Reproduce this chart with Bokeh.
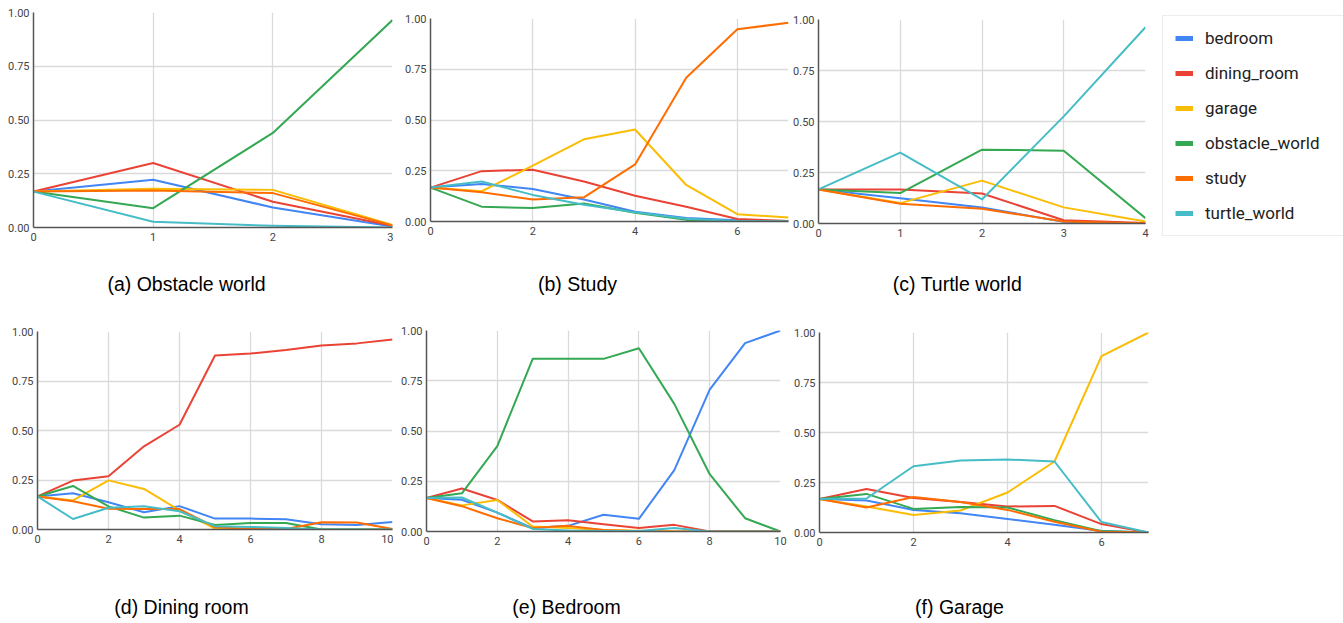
from bokeh.plotting import figure
from bokeh.layouts import column, row
from bokeh.models import (Range1d, FixedTicker, Label, Legend, LegendItem,
                          NumeralTickFormatter)
from bokeh.embed import file_html
from bokeh.resources import INLINE

SERIES = ["bedroom", "dining_room", "garage", "obstacle_world", "study", "turtle_world"]
COLORS = ["#4285F4", "#EA4335", "#FBBC04", "#34A853", "#FF6D01", "#46BDC6"]
Y_TICKS = [0, 0.25, 0.5, 0.75, 1.0]

# (a) Obstacle world
a_steps = [0, 1, 2, 3]
a_xticks = [0, 1, 2, 3]
a_values = {
    "bedroom":        [0.167, 0.222, 0.093, 0.005],
    "dining_room":    [0.167, 0.300, 0.120, 0.008],
    "garage":         [0.167, 0.180, 0.175, 0.012],
    "obstacle_world": [0.167, 0.090, 0.440, 0.965],
    "study":          [0.167, 0.172, 0.160, 0.010],
    "turtle_world":   [0.167, 0.027, 0.008, 0.000],
}

# (b) Study
b_steps = [0, 1, 2, 3, 4, 5, 6, 7]
b_xticks = [0, 2, 4, 6]
b_values = {
    "bedroom":        [0.167, 0.185, 0.160, 0.108, 0.048, 0.017, 0.006, 0.002],
    "dining_room":    [0.167, 0.248, 0.255, 0.197, 0.127, 0.073, 0.012, 0.003],
    "garage":         [0.167, 0.149, 0.275, 0.405, 0.453, 0.180, 0.036, 0.020],
    "obstacle_world": [0.167, 0.073, 0.066, 0.089, 0.043, 0.008, 0.001, 0.000],
    "study":          [0.167, 0.144, 0.108, 0.119, 0.281, 0.708, 0.947, 0.979],
    "turtle_world":   [0.167, 0.197, 0.131, 0.083, 0.045, 0.013, 0.002, 0.000],
}

# (c) Turtle world
c_steps = [0, 1, 2, 3, 4]
c_xticks = [0, 1, 2, 3, 4]
c_values = {
    "bedroom":        [0.167, 0.124, 0.079, 0.008, 0.000],
    "dining_room":    [0.167, 0.167, 0.147, 0.016, 0.002],
    "garage":         [0.167, 0.100, 0.210, 0.079, 0.010],
    "obstacle_world": [0.167, 0.149, 0.362, 0.357, 0.026],
    "study":          [0.167, 0.097, 0.072, 0.010, 0.000],
    "turtle_world":   [0.167, 0.347, 0.118, 0.525, 0.962],
}

# (d) Dining room
d_steps = [0, 1, 2, 3, 4, 5, 6, 7, 8, 9, 10]
d_xticks = [0, 2, 4, 6, 8, 10]
d_values = {
    "bedroom":        [0.167, 0.183, 0.138, 0.087, 0.118, 0.055, 0.055, 0.052, 0.027, 0.023, 0.038],
    "dining_room":    [0.167, 0.247, 0.269, 0.420, 0.529, 0.879, 0.889, 0.906, 0.929, 0.940, 0.960],
    "garage":         [0.167, 0.147, 0.248, 0.205, 0.097, 0.005, 0.003, 0.002, 0.000, 0.000, 0.000],
    "obstacle_world": [0.167, 0.220, 0.117, 0.060, 0.070, 0.023, 0.033, 0.033, 0.000, 0.000, 0.000],
    "study":          [0.167, 0.143, 0.105, 0.103, 0.103, 0.012, 0.003, 0.003, 0.037, 0.035, 0.003],
    "turtle_world":   [0.167, 0.053, 0.110, 0.117, 0.092, 0.017, 0.013, 0.007, 0.000, 0.000, 0.000],
}

# (e) Bedroom
e_steps = [0, 1, 2, 3, 4, 5, 6, 7, 8, 9, 10]
e_xticks = [0, 2, 4, 6, 8, 10]
e_values = {
    "bedroom":        [0.167, 0.158, 0.094, 0.017, 0.028, 0.083, 0.063, 0.305, 0.706, 0.937, 1.000],
    "dining_room":    [0.167, 0.214, 0.157, 0.050, 0.056, 0.036, 0.017, 0.033, 0.000, 0.000, 0.000],
    "garage":         [0.167, 0.130, 0.157, 0.025, 0.017, 0.008, 0.004, 0.000, 0.000, 0.000, 0.000],
    "obstacle_world": [0.167, 0.190, 0.425, 0.859, 0.859, 0.859, 0.912, 0.635, 0.285, 0.066, 0.000],
    "study":          [0.167, 0.126, 0.066, 0.017, 0.028, 0.008, 0.001, 0.000, 0.000, 0.000, 0.000],
    "turtle_world":   [0.167, 0.169, 0.094, 0.013, 0.005, 0.003, 0.002, 0.017, 0.000, 0.000, 0.000],
}

# (f) Garage
f_steps = [0, 1, 2, 3, 4, 5, 6, 7]
f_xticks = [0, 2, 4, 6]
f_values = {
    "bedroom":        [0.167, 0.160, 0.113, 0.096, 0.068, 0.039, 0.007, 0.000],
    "dining_room":    [0.167, 0.218, 0.172, 0.152, 0.130, 0.133, 0.042, 0.000],
    "garage":         [0.167, 0.130, 0.088, 0.110, 0.200, 0.355, 0.882, 1.000],
    "obstacle_world": [0.167, 0.193, 0.118, 0.127, 0.125, 0.062, 0.007, 0.000],
    "study":          [0.167, 0.125, 0.177, 0.152, 0.113, 0.054, 0.004, 0.000],
    "turtle_world":   [0.167, 0.170, 0.331, 0.360, 0.365, 0.355, 0.052, 0.000],
}

CAPTIONS_TOP = ["(a) Obstacle world", "(b) Study", "(c) Turtle world"]
CAPTIONS_BOTTOM = ["(d) Dining room", "(e) Bedroom", "(f) Garage"]


def make_panel(steps, values, xticks, w, h, bl, br, bt, bb):
    p = figure(width=w, height=h, title=None,
               x_range=Range1d(steps[0], steps[-1]), y_range=Range1d(0, 1),
               output_backend="svg", toolbar_location=None,
               min_border_left=bl, min_border_right=br,
               min_border_top=bt, min_border_bottom=bb)
    p.outline_line_color = None
    p.background_fill_color = "white"
    p.border_fill_color = "white"
    for name, color in zip(SERIES, COLORS):
        p.line(steps, values[name], line_color=color, line_width=2, line_join="round")
    p.xaxis.ticker = FixedTicker(ticks=xticks)
    p.yaxis.ticker = FixedTicker(ticks=Y_TICKS)
    p.yaxis.formatter = NumeralTickFormatter(format="0.00")
    p.axis.major_tick_out = 0
    p.axis.major_tick_in = 0
    p.axis.minor_tick_out = 0
    p.axis.minor_tick_in = 0
    p.axis.axis_line_color = "#555555"
    p.axis.axis_line_width = 1.5
    p.axis.major_label_text_font = "Roboto"
    p.axis.major_label_text_font_size = "11px"
    p.axis.major_label_text_color = "#444444"
    p.yaxis.major_label_standoff = 4
    p.xaxis.major_label_standoff = 5
    p.grid.grid_line_color = "#dadada"
    p.grid.grid_line_width = 1.3
    return p


def make_caption_strip(texts, centers, w, h, y):
    s = figure(width=w, height=h, title=None, x_range=Range1d(0, 1), y_range=Range1d(0, 1),
               output_backend="svg", toolbar_location=None,
               x_axis_location=None, y_axis_location=None, min_border=0)
    s.outline_line_color = None
    s.grid.visible = False
    for text, cx in zip(texts, centers):
        s.add_layout(Label(x=cx, y=y, x_units="screen", y_units="screen", text=text,
                           text_font="Liberation Sans", text_font_size="19.5px",
                           text_color="#000000", text_align="center",
                           text_baseline="middle"))
    return s


H1 = 250   # row 1 plots:   0..250
HC1 = 65   # captions 1:  250..315
H2 = 245   # row 2 plots: 315..560
HC2 = 60   # captions 2:  560..620

pa = make_panel(a_steps, a_values, a_xticks, 393, H1, 33, 1, 12, 23)
pb = make_panel(b_steps, b_values, b_xticks, 397, H1, 37, 2, 18, 29)
pc = make_panel(c_steps, c_values, c_xticks, 372, H1, 26, 17, 19, 27)

pd = make_panel(d_steps, d_values, d_xticks, 393, H2, 37, 1, 16, 31)
pe = make_panel(e_steps, e_values, e_xticks, 397, H2, 33, 10, 15, 29)
pf = make_panel(f_steps, f_values, f_xticks, 370, H2, 29, 12, 17, 28)

# legend panel
pl = figure(width=181, height=H1, title=None, x_range=Range1d(0, 4), y_range=Range1d(0, 1),
            output_backend="svg", toolbar_location=None,
            x_axis_location=None, y_axis_location=None,
            min_border_left=0, min_border_right=0, min_border_top=15, min_border_bottom=0)
pl.outline_line_color = None
pl.grid.visible = False
items = []
for name, color in zip(SERIES, COLORS):
    r = pl.line(c_steps, c_values[name], line_color=color, line_width=5, visible=False)
    items.append(LegendItem(label=name, renderers=[r]))
legend = Legend(items=items, location="top_left", margin=0, padding=12, spacing=15,
                label_height=20, glyph_height=20, glyph_width=18, label_standoff=12,
                label_width=130,
                label_text_font="Roboto", label_text_font_size="17px",
                label_text_color="#222222", border_line_color="#d9d9d9",
                border_line_width=1, background_fill_alpha=1.0)
pl.add_layout(legend, "center")

cap1 = make_caption_strip(CAPTIONS_TOP, [186, 577, 957], 1343, HC1, 32)
cap2 = make_caption_strip(CAPTIONS_BOTTOM, [181, 566, 959], 1343, HC2, 14)

layout = column(row(column(pa), column(pb), column(pc), column(pl)), cap1,
                row(column(pd), column(pe), column(pf)), cap2)

with open("out.html", "w") as fh:
    fh.write(file_html(layout, INLINE))
